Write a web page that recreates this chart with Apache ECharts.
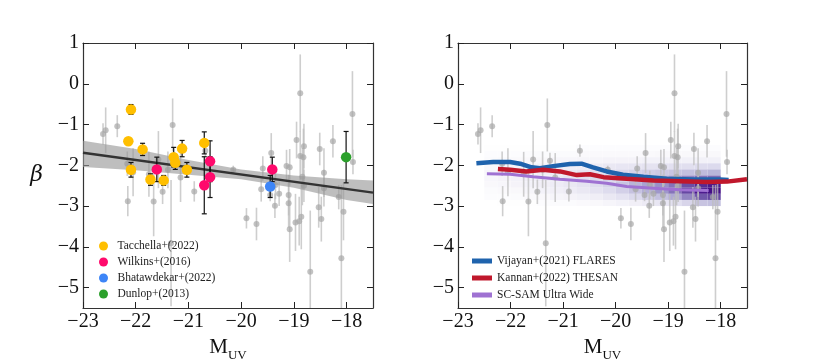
<!DOCTYPE html>
<html>
<head>
<meta charset="utf-8">
<script src="https://cdn.jsdelivr.net/npm/echarts@6/dist/echarts.min.js"></script>
<style>
  html, body { margin: 0; padding: 0; background: #fff; }
  #chart { width: 830px; height: 363px; }
</style>
</head>
<body>
<div id="chart"></div>
<script>
// comparison sample (grey points, drawn in both panels)
const greyX = [-22.62, -22.57, -22.35, -22.15, -22.16, -22.05, -21.75, -21.66, -21.57, -21.49, -21.39, -21.30, -21.33, -21.25, -21.15,
  -20.89, -20.68, -20.15, -19.90, -19.71, -19.62, -19.59, -19.43, -19.45, -19.36, -19.35, -19.28, -19.14, -19.08, -19.10,
  -19.10, -19.08, -18.97, -18.95, -18.90, -18.88, -18.88, -18.82, -18.81, -18.86, -18.84, -18.69, -18.53, -18.51, -18.48,
  -18.43, -18.43, -18.26, -18.15, -18.10, -18.06, -17.89, -17.88, -18.81];
const greyY = [-1.23, -1.14, -1.04, -2.88, -1.96, -2.17, -2.22, -2.89, -1.86, -2.65, -2.11, -1.01, -3.91, -1.89, -2.30,
  -2.64, -1.64, -2.11, -3.30, -3.44, -2.59, -2.08, -1.70, -2.73, -2.99, -2.48, -2.70, -2.02, -2.05, -2.73,
  -2.93, -3.57, -3.40, -1.38, -3.37, -0.23, -1.77, -1.80, -1.53, -3.26, -2.28, -4.61, -3.03, -1.60, -3.32,
  -2.18, -2.56, -1.41, -2.78, -4.28, -3.14, -0.74, -1.92, -2.50];
const greyErr = [0.26, 0.56, 0.27, 0.37, 0.30, 0.59, 0.55, 0.85, 0.70, 0.30, 0.45, 0.65, 1.55, 0.20, 0.60,
  0.25, 0.15, 0.10, 0.25, 0.40, 0.30, 0.30, 0.49, 0.15, 0.30, 0.35, 0.30, 0.40, 0.45, 0.50,
  0.60, 0.80, 0.70, 0.45, 0.60, 0.95, 0.60, 0.70, 0.55, 0.80, 0.70, 1.50, 0.50, 0.40, 0.55,
  0.60, 0.45, 0.40, 0.30, 1.80, 0.70, 1.05, 0.30, 0.40];

// left panel observations
const tacchellaX = [-22.09, -22.14, -22.09, -21.87, -21.72, -21.47, -21.28, -21.25, -21.12, -21.03, -20.70];
const tacchellaY = [-0.63, -1.41, -2.11, -1.61, -2.35, -2.37, -1.80, -1.94, -1.59, -2.11, -1.45];
const tacchellaErr = [0.12, 0.05, 0.18, 0.15, 0.14, 0.12, 0.24, 0.16, 0.20, 0.18, 0.27];
const wilkinsX = [-21.60, -20.70, -20.59, -20.59, -19.41];
const wilkinsY = [-2.10, -2.49, -1.90, -2.29, -2.10];
const wilkinsErr = [0.30, 0.70, 0.50, 0.50, 0.30];
const bhatX = [-19.45];
const bhatY = [-2.52];
const bhatErr = [0.27];
const dunlopX = [-18.01];
const dunlopY = [-1.80];
const dunlopErr = [0.63];

// linear fit and its uncertainty band
const fitEndX = [-23, -17.5];
const fitEndY = [-1.69, -2.67];
const bandX = [-23, -22, -21, -20, -19, -18, -17.5];
const bandHigh = [-1.40, -1.60, -1.87, -2.10, -2.25, -2.34, -2.37];
const bandLow = [-2.04, -2.12, -2.23, -2.34, -2.55, -2.85, -2.95];

// right panel simulations
const flaresX = [-22.65, -22.33, -22.01, -21.79, -21.60, -21.44, -21.19, -20.87, -20.65, -20.43, -20.17, -19.86, -19.47, -19.03, -18.52, -18.01, -17.85];
const flaresY = [-1.95, -1.92, -1.92, -1.97, -2.05, -2.07, -2.02, -1.97, -1.96, -2.05, -2.15, -2.23, -2.28, -2.33, -2.35, -2.35, -2.36];
const thesanX = [-22.24, -22.01, -21.70, -21.38, -21.06, -20.74, -20.49, -20.23, -19.79, -19.28, -18.77, -18.26, -17.88, -17.50];
const thesanY = [-2.09, -2.11, -2.15, -2.11, -2.15, -2.24, -2.22, -2.29, -2.33, -2.37, -2.39, -2.41, -2.40, -2.34];
const scsamX = [-22.45, -22.01, -21.57, -21.06, -20.55, -20.17, -19.79, -19.28, -18.77, -18.23];
const scsamY = [-2.21, -2.22, -2.28, -2.34, -2.39, -2.44, -2.52, -2.56, -2.60, -2.62];

// SC-SAM density (rows top -> bottom, columns left -> right)
const heatXEdges = [-22.5, -22.25, -22, -21.75, -21.5, -21.25, -21, -20.75, -20.5, -20.25, -20, -19.75, -19.5, -19.25, -19, -18.75, -18.5, -18.25, -18];
const heatYEdges = [-1.5, -1.65, -1.8, -1.95, -2.1, -2.25, -2.4, -2.55, -2.7, -2.85, -3.0];
const heatRows = [
  [0.01, 0.01, 0.01, 0.01, 0.01, 0.01, 0.01, 0.02, 0.02, 0.02, 0.02, 0.02, 0.02, 0.02, 0.02, 0.02, 0.02, 0.02],
  [0.02, 0.02, 0.02, 0.03, 0.03, 0.03, 0.03, 0.04, 0.04, 0.04, 0.04, 0.04, 0.04, 0.05, 0.05, 0.05, 0.05, 0.05],
  [0.03, 0.04, 0.04, 0.05, 0.05, 0.06, 0.06, 0.07, 0.07, 0.08, 0.08, 0.08, 0.09, 0.09, 0.10, 0.10, 0.10, 0.10],
  [0.05, 0.06, 0.07, 0.08, 0.09, 0.10, 0.11, 0.12, 0.14, 0.16, 0.17, 0.18, 0.19, 0.20, 0.21, 0.22, 0.24, 0.25],
  [0.06, 0.08, 0.09, 0.10, 0.12, 0.14, 0.16, 0.18, 0.21, 0.24, 0.26, 0.28, 0.30, 0.32, 0.34, 0.36, 0.38, 0.40],
  [0.06, 0.08, 0.09, 0.11, 0.13, 0.15, 0.18, 0.21, 0.25, 0.29, 0.33, 0.37, 0.41, 0.45, 0.50, 0.55, 0.60, 0.62],
  [0.05, 0.06, 0.08, 0.09, 0.11, 0.13, 0.16, 0.19, 0.23, 0.28, 0.34, 0.40, 0.46, 0.52, 0.60, 0.70, 0.80, 0.85],
  [0.03, 0.04, 0.05, 0.07, 0.09, 0.11, 0.13, 0.16, 0.19, 0.24, 0.29, 0.35, 0.42, 0.50, 0.60, 0.72, 0.85, 0.90],
  [0.02, 0.02, 0.03, 0.04, 0.05, 0.07, 0.08, 0.10, 0.12, 0.16, 0.20, 0.25, 0.30, 0.36, 0.44, 0.55, 0.68, 0.72],
  [0.00, 0.01, 0.01, 0.01, 0.02, 0.03, 0.03, 0.04, 0.05, 0.07, 0.09, 0.11, 0.14, 0.17, 0.21, 0.27, 0.34, 0.36]
];

const xTicks = [-23, -22, -21, -20, -19, -18];
const yTicks = [-5, -4, -3, -2, -1, 0, 1];
const X_MIN = -23, X_MAX = -17.5, Y_MIN = -5.5, Y_MAX = 1;

const FONT = 'Liberation Serif';
const chart = echarts.init(document.getElementById('chart'));

const zip = (xs, ys) => xs.map((x, i) => [x, ys[i]]);
const errData = (xs, ys, es) => xs.map((x, i) => [x, ys[i] - es[i], ys[i] + es[i]]);
const minus = v => String(v).replace('-', '\u2212');

function errorBars(color, width, cap) {
  return function (params, api) {
    const x = api.value(0);
    const lo = api.coord([x, Math.max(api.value(1), Y_MIN)]);
    const hi = api.coord([x, Math.min(api.value(2), Y_MAX)]);
    const kids = [{
      type: 'line',
      shape: { x1: lo[0], y1: lo[1], x2: hi[0], y2: hi[1] },
      style: { stroke: color, lineWidth: width }
    }];
    if (cap) {
      kids.push({ type: 'line', shape: { x1: lo[0] - cap, y1: lo[1], x2: lo[0] + cap, y2: lo[1] }, style: { stroke: color, lineWidth: width } });
      kids.push({ type: 'line', shape: { x1: hi[0] - cap, y1: hi[1], x2: hi[0] + cap, y2: hi[1] }, style: { stroke: color, lineWidth: width } });
    }
    return { type: 'group', children: kids };
  };
}

function bandRender(params, api) {
  if (params.dataIndex !== 0) return null;
  const top = bandX.map((x, i) => api.coord([x, bandHigh[i]]));
  const bot = bandX.map((x, i) => api.coord([x, bandLow[i]])).reverse();
  return {
    type: 'polygon',
    shape: { points: top.concat(bot) },
    style: { fill: 'rgba(150,150,150,0.62)' }
  };
}

function heatRender(params, api) {
  const p0 = api.coord([api.value(0), api.value(1)]);
  const p1 = api.coord([api.value(2), api.value(3)]);
  return {
    type: 'rect',
    shape: { x: p0[0], y: p1[1], width: p1[0] - p0[0], height: p0[1] - p1[1] },
    style: { fill: api.visual('color') }
  };
}

const heatData = [];
heatRows.forEach((row, r) => {
  row.forEach((v, c) => {
    if (v > 0) heatData.push([heatXEdges[c], heatYEdges[r + 1], heatXEdges[c + 1], heatYEdges[r], v]);
  });
});

function xAxes(g) {
  const common = {
    type: 'value', gridIndex: g, min: X_MIN, max: X_MAX,
    splitLine: { show: false },
    axisLine: { onZero: false, lineStyle: { color: '#333', width: 1.2 } },
    axisTick: { inside: true, length: 6, customValues: xTicks, lineStyle: { color: '#222', width: 1 } }
  };
  return [
    Object.assign({}, common, {
      position: 'bottom',
      axisLabel: { customValues: xTicks, formatter: minus, fontSize: 20, fontFamily: FONT, color: '#111', margin: 4 },
      name: '{m|M}{s|UV}', nameLocation: 'middle', nameGap: 21,
      nameTextStyle: {
        rich: {
          m: { fontSize: 21, fontFamily: FONT, color: '#111', verticalAlign: 'bottom' },
          s: { fontSize: 13, fontFamily: FONT, color: '#111', verticalAlign: 'bottom', padding: [0, 0, -4, 0] }
        }
      }
    }),
    Object.assign({}, common, { position: 'top', axisLabel: { show: false } })
  ];
}

function yAxes(g, withName) {
  const common = {
    type: 'value', gridIndex: g, min: Y_MIN, max: Y_MAX,
    splitLine: { show: false },
    axisLine: { onZero: false, lineStyle: { color: '#333', width: 1.2 } },
    axisTick: { inside: true, length: 6, customValues: yTicks, lineStyle: { color: '#222', width: 1 } }
  };
  const left = Object.assign({}, common, {
    position: 'left',
    axisLabel: { customValues: yTicks, formatter: minus, fontSize: 20, fontFamily: FONT, color: '#111', margin: 4 }
  });
  if (withName) {
    Object.assign(left, {
      name: '\u03b2', nameLocation: 'middle', nameGap: 40, nameRotate: 0,
      nameTextStyle: { fontSize: 22, fontFamily: 'DejaVu Serif', fontStyle: 'italic', color: '#111' }
    });
  }
  return [left, Object.assign({}, common, { position: 'right', axisLabel: { show: false } })];
}

const greyPts = zip(greyX, greyY);
const greyBars = errData(greyX, greyY, greyErr);

function greySeries(xi, yi) {
  return [
    { type: 'custom', xAxisIndex: xi, yAxisIndex: yi, clip: true, silent: true, z: 1,
      renderItem: errorBars('rgba(190,190,190,0.75)', 1.6, 0), encode: { x: 0, y: [1, 2] }, data: greyBars },
    { type: 'scatter', xAxisIndex: xi, yAxisIndex: yi, symbolSize: 6, z: 2, silent: true,
      itemStyle: { color: 'rgba(165,165,165,0.85)' }, data: greyPts }
  ];
}

function obsSeries(name, color, xs, ys, es) {
  return [
    { type: 'custom', xAxisIndex: 0, yAxisIndex: 0, z: 5, silent: true,
      renderItem: errorBars('#111', 1.2, 2.5), encode: { x: 0, y: [1, 2] }, data: errData(xs, ys, es) },
    { name: name, type: 'scatter', xAxisIndex: 0, yAxisIndex: 0, symbolSize: 10.5, z: 6,
      itemStyle: { color: color, opacity: 1 }, data: zip(xs, ys) }
  ];
}

const series = [].concat(
  greySeries(0, 0),
  [
    { type: 'custom', xAxisIndex: 0, yAxisIndex: 0, z: 3, silent: true, renderItem: bandRender,
      encode: { x: 0, y: [1, 2] }, data: bandX.map((x, i) => [x, bandLow[i], bandHigh[i]]) },
    { type: 'line', xAxisIndex: 0, yAxisIndex: 0, z: 4, symbol: 'none', silent: true,
      lineStyle: { color: '#333', width: 2.5 }, data: zip(fitEndX, fitEndY) }
  ],
  obsSeries('Tacchella+(2022)', '#ffbf00', tacchellaX, tacchellaY, tacchellaErr),
  obsSeries('Wilkins+(2016)', '#ff0a6c', wilkinsX, wilkinsY, wilkinsErr),
  obsSeries('Bhatawdekar+(2022)', '#3d85f7', bhatX, bhatY, bhatErr),
  obsSeries('Dunlop+(2013)', '#2ca02c', dunlopX, dunlopY, dunlopErr),
  [
    { id: 'heat', type: 'custom', xAxisIndex: 2, yAxisIndex: 2, z: 0, silent: true, renderItem: heatRender,
      encode: { x: [0, 2], y: [1, 3] }, data: heatData }
  ],
  greySeries(2, 2),
  [
    { name: 'Vijayan+(2021) FLARES', type: 'line', xAxisIndex: 2, yAxisIndex: 2, z: 7, symbol: 'none',
      color: '#1f63ad', lineStyle: { color: '#1f63ad', width: 4.5 }, data: zip(flaresX, flaresY) },
    { name: 'Kannan+(2022) THESAN', type: 'line', xAxisIndex: 2, yAxisIndex: 2, z: 8, symbol: 'none',
      color: '#c0182c', lineStyle: { color: '#c0182c', width: 4.5 }, data: zip(thesanX, thesanY) },
    { name: 'SC-SAM Ultra Wide', type: 'line', xAxisIndex: 2, yAxisIndex: 2, z: 9, symbol: 'none',
      color: '#9f72d2', lineStyle: { color: '#9f72d2', width: 3 }, data: zip(scsamX, scsamY) }
  ]
);

const heatIndex = series.findIndex(s => s.id === 'heat');

chart.setOption({
  animation: false,
  backgroundColor: '#fff',
  grid: [
    { left: 83, top: 43, width: 290, height: 265, outerBoundsMode: 'none' },
    { left: 458, top: 43, width: 289, height: 265, outerBoundsMode: 'none' }
  ],
  xAxis: xAxes(0).concat(xAxes(1)),
  yAxis: yAxes(0, true).concat(yAxes(1, false)),
  visualMap: {
    show: false, type: 'continuous', seriesIndex: heatIndex, dimension: 4, min: 0, max: 1,
    inRange: { color: ['#ffffff', '#efedf6', '#dcdaed', '#c0bcdd', '#9f97cb', '#7e6bb4', '#5f3d9d', '#46138a', '#3a0078'] }
  },
  legend: [
    {
      orient: 'vertical', left: 94, top: 235, itemWidth: 18, itemHeight: 9, itemGap: 4, icon: 'circle',
      textStyle: { fontFamily: FONT, fontSize: 11.5, color: '#222' },
      data: ['Tacchella+(2022)', 'Wilkins+(2016)', 'Bhatawdekar+(2022)', 'Dunlop+(2013)']
    },
    {
      orient: 'vertical', left: 467, top: 250, itemWidth: 20, itemHeight: 5, itemGap: 5, icon: 'rect',
      textStyle: { fontFamily: FONT, fontSize: 11.5, color: '#222' },
      data: ['Vijayan+(2021) FLARES', 'Kannan+(2022) THESAN', 'SC-SAM Ultra Wide']
    }
  ],
  series: series
});
</script>
</body>
</html>
